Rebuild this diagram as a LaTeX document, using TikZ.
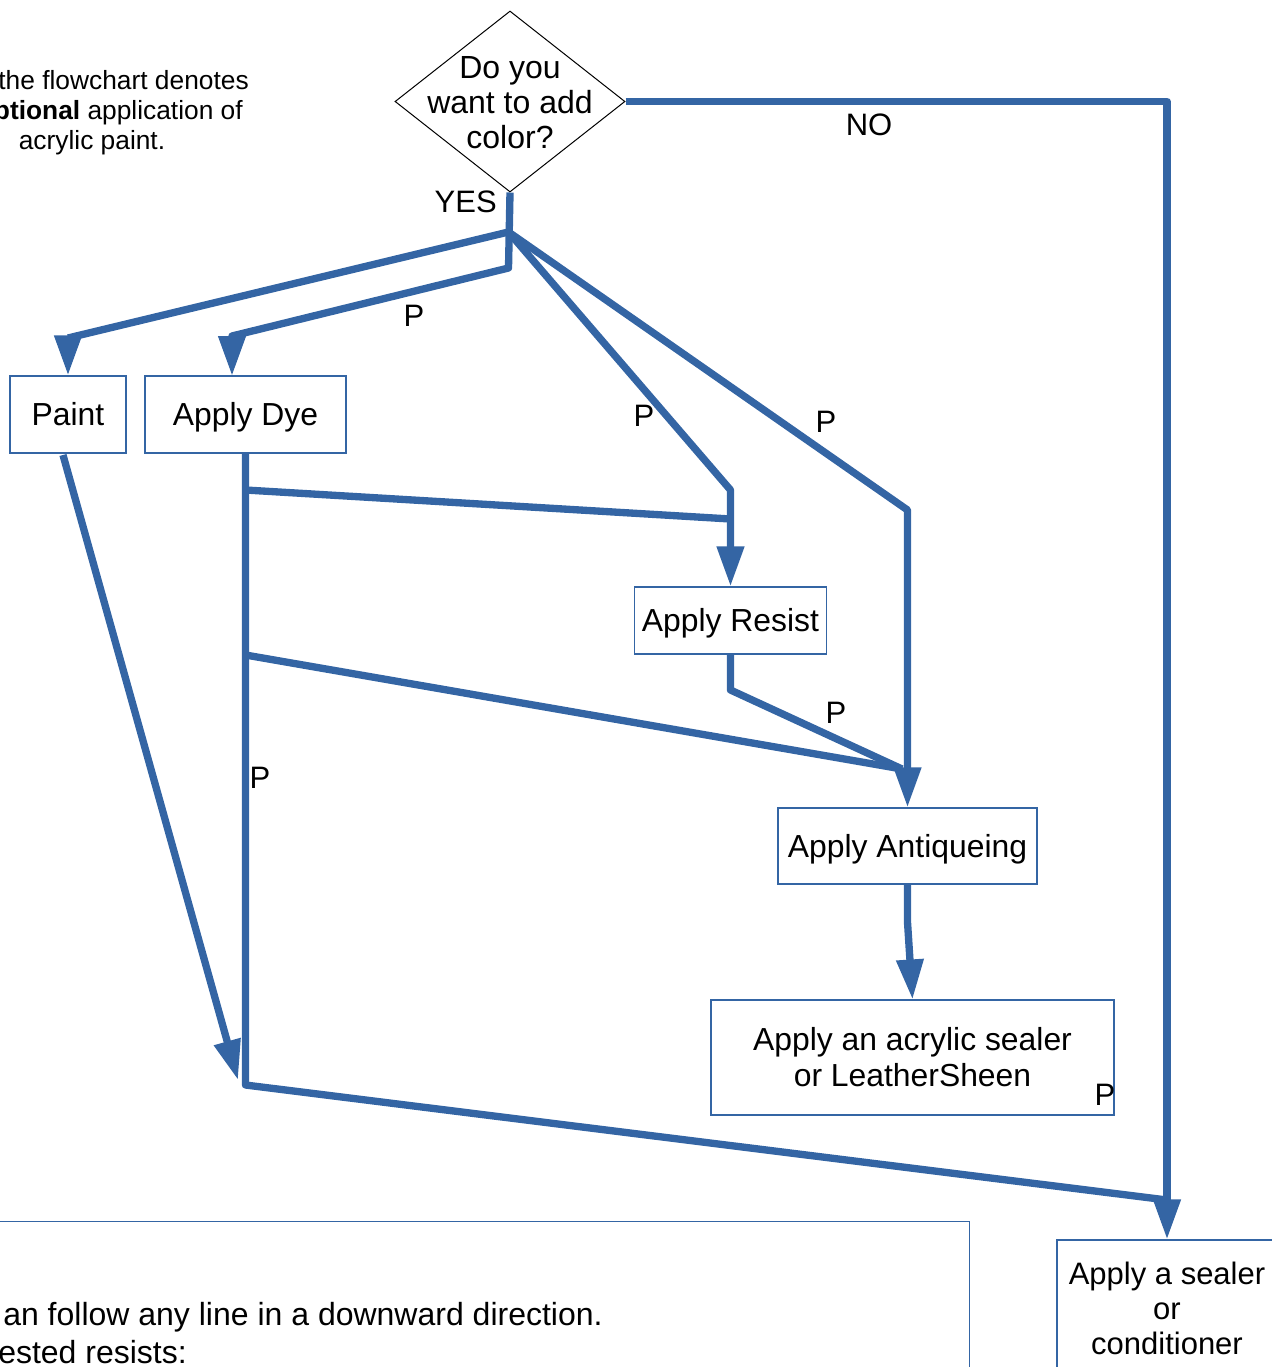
\documentclass[tikz,border=0pt]{standalone}
\usepackage{fontspec}
\setmainfont{Liberation Sans}
\usetikzlibrary{shapes.geometric,arrows.meta}
\definecolor{lblue}{HTML}{3465A4}
\begin{document}
\begin{tikzpicture}[x=0.75pt,y=-0.75pt,
  box/.style={draw=lblue, line width=0.8pt, fill=white, inner sep=0pt, align=center, font=\fontsize{23.9}{27}\selectfont},
  oneline/.style={text height=17pt, text depth=0pt},
  lbl/.style={inner sep=0pt, font=\fontsize{23.25}{27}\selectfont},
  note/.style={inner sep=0pt, font=\fontsize{19.75}{22}\selectfont},
  tiptext/.style={inner sep=0pt, anchor=base west, font=\fontsize{24}{28}\selectfont},
  conn/.style={draw=lblue, line width=5.5pt, line join=round},
  arr/.style={conn, -{Triangle[width=19.5pt,length=30pt]}},
]
\useasboundingbox (0,0) rectangle (1271,1367);

% boxes
\node[diamond, draw=black, line width=0.75pt, fill=white, minimum width=172.5pt, minimum height=135.75pt, inner sep=0pt] (q) at (510,101.5) {};
\node[lbl, align=center, font=\fontsize{24}{26.25}\selectfont] (qtext) at (510,103) {Do you\\want to add\\color?};

\node[box, oneline, minimum width=87pt, minimum height=57.75pt] (paint) at (68,414.5) {Paint};
\node[box, oneline, minimum width=150.75pt, minimum height=57.75pt] (dye) at (245.5,414.5) {Apply Dye};
\node[box, oneline, minimum width=144pt, minimum height=50.25pt] (resist) at (730.5,620.5) {Apply Resist};
\node[box, oneline, minimum width=194.25pt, minimum height=57pt] (antiq) at (907.5,846) {Apply Antiqueing};
\node[box, minimum width=302.25pt, minimum height=86.25pt] (acryl) at (912.5,1057.5) {Apply an acrylic sealer\\or LeatherSheen};
\node[box, minimum width=165pt, minimum height=102pt, font=\fontsize{23.25}{26.25}\selectfont] (sealer) at (1167,1308) {Apply a sealer\\or\\conditioner};

\node[draw=lblue, line width=0.8pt, minimum width=765pt, minimum height=150pt, anchor=north east, inner sep=0pt] (notebox) at (970,1220.5) {};
\node[tiptext] (tip1) at (3,1325) {an follow any line in a downward direction.};
\node[tiptext] (tip2) at (-2,1363) {ested resists:};

% top-left note
\node[note, anchor=base east] (n1) at (249,89) {the flowchart denotes};
\node[note, anchor=base east] (n2) at (243,119) {\textbf{optional} application of};
\node[note, anchor=base] (n3) at (92,149) {acrylic paint.};

% coordinates
\coordinate (yesj) at (508.5,232);
\coordinate (yesb) at (508.5,268);
\coordinate (paintb) at (68,338);
\coordinate (dyeb) at (232,336);
\coordinate (dyein) at (232,376);
\coordinate (resb) at (730.5,490);
\coordinate (antb) at (907.5,510);
\coordinate (nob) at (1167,101.5);
\coordinate (dyej1) at (245.5,490);
\coordinate (resj) at (730.5,519);
\coordinate (dyej2) at (245.5,655);
\coordinate (antj) at (902,769);
\coordinate (dyebot) at (245.5,1085);
\coordinate (sealj) at (1167,1200);
\coordinate (resb2) at (730.5,690);
\coordinate (paintout) at (63,455);
\coordinate (paintin) at (238,1080);
\coordinate (antb2) at (907.5,922);

% connectors
\draw[arr] (q.south) -- (yesb) -- (dyeb) -- (dyein);
\draw[arr] (yesj) -- (paintb) -- (paint.north);
\draw[arr] (yesj) -- (resb) -- (resist.north);
\draw[arr] (yesj) -- (antb) -- (antiq.north);
\draw[arr] (q.east) -- (nob) -- (sealer.north);
\draw[conn] (dye.south) -- (dyebot) -- (sealj);
\draw[conn] (dyej1) -- (resj);
\draw[conn] (dyej2) -- (antj);
\draw[conn] (resist.south) -- (resb2) -- (antj);
\draw[arr] (paintout) -- (paintin);
\draw[arr] (antiq.south) -- (antb2) -- (acryl.north);

% labels
\node[lbl, anchor=east] (yes) at (497,202) {YES};
\node[lbl] (no) at (869,125) {NO};
\node[lbl] (p1) at (414,316) {P};
\node[lbl] (p2) at (644,416) {P};
\node[lbl] (p3) at (826,422) {P};
\node[lbl] (p4) at (836,713) {P};
\node[lbl] (p5) at (260,778) {P};
\node[lbl] (p6) at (1105,1095) {P};
\end{tikzpicture}
\end{document}
